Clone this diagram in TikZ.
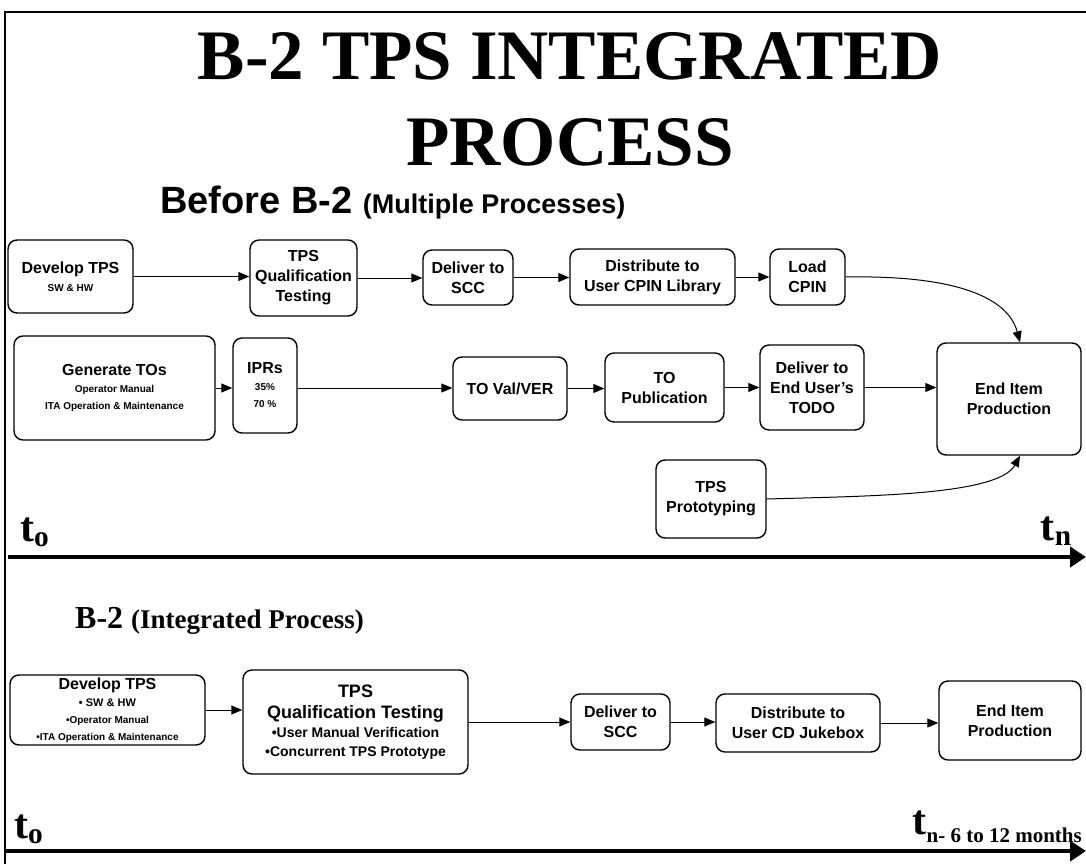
\documentclass[tikz,border=0pt]{standalone}
\usepackage{fontspec}
\setmainfont{Liberation Sans}
\newfontfamily\timesfont{Liberation Serif}
\usetikzlibrary{arrows.meta,positioning}

\newcommand\smalltxt[1]{{\fontsize{10}{12}\selectfont #1}}

\tikzset{
  procbox/.style={draw, line width=1.4pt, rounded corners=9pt, align=center,
    inner sep=1pt, font=\bfseries\fontsize{16}{20}\selectfont},
  flow/.style={-{Triangle[length=11pt,width=9pt]}, line width=1pt},
  timeline/.style={-{Triangle[length=16pt,width=20pt]}, line width=4.5pt},
  tlabel/.style={inner sep=0, font=\timesfont\bfseries\fontsize{42}{42}\selectfont},
}

\begin{document}
\begin{tikzpicture}[x=1pt,y=-1pt]
	\useasboundingbox (0,0) rectangle (1086,864);
	% frame
	\draw[line width=1.2pt] (5,864) -- (5,12) -- (1086,12);

	% titles
	\node[anchor=base, inner sep=0, font=\timesfont\bfseries\fontsize{71}{71}\selectfont] (title1) at (570,80) {B-2 TPS INTEGRATED};
	\node[anchor=base, inner sep=0, font=\timesfont\bfseries\fontsize{71}{71}\selectfont] (title2) at (570,165) {PROCESS};
	\node[anchor=base west, inner sep=0, font=\bfseries\fontsize{38}{38}\selectfont] (before) at (160,213)
		{Before B-2 {\fontsize{27}{27}\selectfont(Multiple Processes)}};

	% before B-2, first row
	\node[procbox, minimum width=125, minimum height=73] (dev1) at (70.5,276.5) {Develop TPS\\[-2pt]\smalltxt{SW \& HW}};
	\node[procbox, minimum width=107, minimum height=76] (qual1) at (303.5,278) {TPS\\Qualification\\Testing};
	\node[procbox, minimum width=90, minimum height=55] (scc1) at (468,277.5) {Deliver to\\SCC};
	\node[procbox, minimum width=165, minimum height=56] (dist1) at (652.5,277) {Distribute to\\User CPIN Library};
	\node[procbox, minimum width=75, minimum height=56] (load1) at (807.5,277) {Load\\CPIN};

	% before B-2, second row
	\node[procbox, minimum width=201, minimum height=104] (gen) at (114.5,388)
		{Generate TOs\\[-3pt]\smalltxt{Operator Manual}\\[-3pt]\smalltxt{ITA Operation \& Maintenance}};
	\node[procbox, minimum width=64, minimum height=95] (ipr) at (265,385.5)
		{IPRs\\[-3pt]\smalltxt{35\%}\\[-3pt]\smalltxt{70 \%}};
	\node[procbox, minimum width=114, minimum height=63] (val) at (510,388.5) {TO Val/VER};
	\node[procbox, minimum width=119, minimum height=69] (pub) at (664.5,387.5) {TO\\Publication};
	\node[procbox, minimum width=104, minimum height=85] (todo) at (812,387.5) {Deliver to\\End User's\\TODO};
	\node[procbox, minimum width=144, minimum height=112] (end1) at (1009,399) {End Item\\Production};
	\node[procbox, minimum width=110, minimum height=78] (proto) at (711,499) {TPS\\Prototyping};

	\draw[flow] (dev1.east) -- (dev1.east -| qual1.west);
	\draw[flow] (qual1.east) -- (qual1.east -| scc1.west);
	\draw[flow] (scc1.east) -- (scc1.east -| dist1.west);
	\draw[flow] (dist1.east) -- (dist1.east -| load1.west);
	\draw[flow] (load1.east) .. controls +(110,-2) and +(-12,-45) .. ([xshift=11pt]end1.north);
	\draw[flow] (gen.east) -- (gen.east -| ipr.west);
	\draw[flow] (ipr.east |- gen.east) -- (gen.east -| val.west);
	\draw[flow] (val.east) -- (val.east -| pub.west);
	\draw[flow] (pub.east) -- (pub.east -| todo.west);
	\draw[flow] (todo.east) -- (todo.east -| end1.west);
	\draw[flow] (proto.east) .. controls +(100,-3) and +(-22,40) .. ([xshift=11pt]end1.south);

	% first time line
	\coordinate (ax1s) at (8,557);
	\coordinate (ax1e) at (1086,557);
	\draw[timeline] (ax1s) -- (ax1e);
	\node[tlabel, anchor=base west] (t0a) at (20,541) {t\textsubscript{o}};
	\node[tlabel, anchor=base east] (tna) at (1072,540) {t\textsubscript{n}};

	% B-2 integrated process
	\node[anchor=base west, inner sep=0, font=\timesfont\bfseries\fontsize{32}{32}\selectfont] (integ) at (75,628)
		{B-2 {\fontsize{27}{27}\selectfont(Integrated Process)}};

	\node[procbox, minimum width=195, minimum height=70] (dev2) at (107.5,710)
		{Develop TPS\\[-3pt]{\fontsize{11}{13}\selectfont\textbullet{} SW \& HW}\\[-3pt]\smalltxt{\textbullet Operator Manual}\\[-3pt]\smalltxt{\textbullet ITA Operation \& Maintenance}};
	\node[procbox, minimum width=225, minimum height=104, font=\bfseries\fontsize{18}{21}\selectfont] (qual2) at (355.5,722)
		{TPS\\Qualification Testing\\[-2pt]{\fontsize{14}{17}\selectfont\textbullet User Manual Verification}\\[-2pt]{\fontsize{14}{17}\selectfont\textbullet Concurrent TPS Prototype}};
	\node[procbox, minimum width=99, minimum height=56] (scc2) at (620.5,722) {Deliver to\\SCC};
	\node[procbox, minimum width=164, minimum height=58] (dist2) at (798,723) {Distribute to\\User CD Jukebox};
	\node[procbox, minimum width=142, minimum height=79] (end2) at (1010,720.5) {End Item\\Production};

	\draw[flow] (dev2.east) -- (dev2.east -| qual2.west);
	\draw[flow] (qual2.east) -- (qual2.east -| scc2.west);
	\draw[flow] (scc2.east) -- (scc2.east -| dist2.west);
	\draw[flow] (dist2.east) -- (dist2.east -| end2.west);

	% second time line
	\coordinate (ax2s) at (5,851);
	\coordinate (ax2e) at (1086,851);
	\draw[timeline] (ax2s) -- (ax2e);
	\node[tlabel, anchor=base west] (t0b) at (14,838) {t\textsubscript{o}};
	\node[tlabel, anchor=base east] (tnb) at (1082,834)
		{t\raisebox{-8pt}{\fontsize{21}{21}\selectfont n- 6 to 12 months}};
\end{tikzpicture}
\end{document}
